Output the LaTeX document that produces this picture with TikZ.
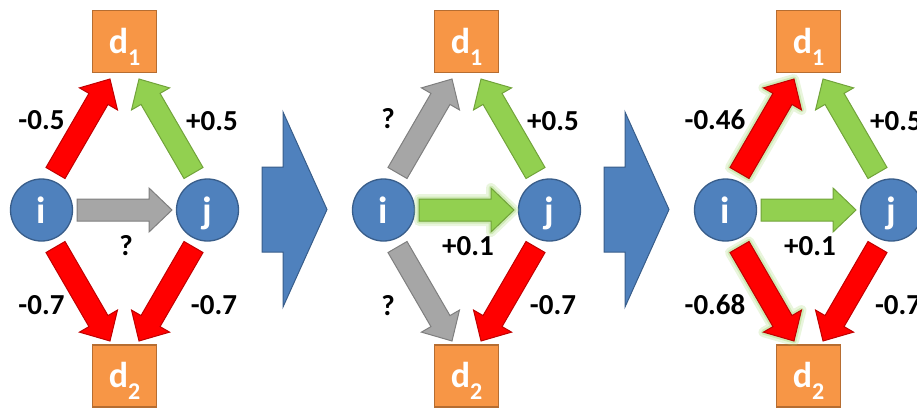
\documentclass[tikz,border=0pt]{standalone}
\usepackage{fontspec}
\setmainfont{Carlito}
\usetikzlibrary{calc}
\definecolor{boxfill}{HTML}{F79646}
\definecolor{boxline}{HTML}{B66D31}
\definecolor{circfill}{HTML}{4F81BD}
\definecolor{circline}{HTML}{385D8A}
\definecolor{redfill}{HTML}{FF0000}
\definecolor{redline}{HTML}{C00000}
\definecolor{grnfill}{HTML}{92D050}
\definecolor{grnline}{HTML}{71A33A}
\definecolor{grayfill}{HTML}{A6A6A6}
\definecolor{grayline}{HTML}{7F7F7F}
\definecolor{glowcol}{HTML}{A8D878}

% block arrow from tail coordinate #1 to tip coordinate #2 with style #3
\newcommand\blockarr[3]{%
  \path let \p1=(#1), \p2=(#2),
            \n1={atan2(\y2-\y1,\x2-\x1)},
            \n2={veclen(\x2-\x1,\y2-\y1)} in
    \pgfextra{\xdef\baang{\n1}\xdef\balen{\n2}\xdef\bax{\x1}\xdef\bay{\y1}};
  \begin{scope}[shift={(\bax,\bay)},rotate=\baang]
    \path[#3] (0pt,-11pt) -- ({\balen-23pt},-11pt) -- ({\balen-23pt},-22pt)
      -- ({\balen},0pt) -- ({\balen-23pt},22pt) -- ({\balen-23pt},11pt)
      -- (0pt,11pt) -- cycle;
  \end{scope}}
\newcommand\dsub[1]{d\raisebox{-12pt}[0pt][0pt]{\fontsize{24}{24}\selectfont #1}}

\begin{document}
\begin{tikzpicture}[x=1pt,y=-1pt,
  dbox/.style={draw=boxline, fill=boxfill, line width=1.3pt, minimum width=64pt,
    minimum height=62pt, inner sep=0pt, text=white,
    font=\fontsize{36}{36}\selectfont\bfseries, text height=23pt, text depth=0pt},
  circ/.style={circle, draw=circline, fill=circfill, line width=1.3pt,
    minimum size=62pt, inner sep=0pt, text=white,
    font=\fontsize{38}{38}\selectfont\bfseries, text height=26pt, text depth=0pt},
  lab/.style={font=\fontsize{29}{29}\selectfont\bfseries, inner sep=0pt},
  redarr/.style={fill=redfill, draw=redline, line width=1pt, line join=miter},
  grnarr/.style={fill=grnfill, draw=grnline, line width=1pt, line join=miter},
  grayarr/.style={fill=grayfill, draw=grayline, line width=1pt, line join=miter},
  glowa/.style={draw=glowcol, line width=10pt, line join=round, opacity=0.25},
  glowb/.style={draw=glowcol, line width=5pt, line join=round, opacity=0.4},
  bigarr/.style={fill=circfill, draw=circline, line width=1pt}]
\useasboundingbox (0,0) rectangle (917,410);
\clip (0,0) rectangle (917,410);

% nodes and arrow end points, three panels
\foreach \k/\o in {1/0,2/342,3/684}{
  \node[dbox] (top\k) at (124.5+\o,41.5) {\dsub{1}};
  \node[dbox] (bot\k) at (124.5+\o,376) {\dsub{2}};
  \node[circ] (i\k) at (41.5+\o,210) {i};
  \node[circ] (j\k) at (207.5+\o,210) {j};
  \coordinate (it\k s) at (55.5+\o,173);
  \coordinate (it\k e) at (110+\o,79);
  \coordinate (jt\k s) at (193.5+\o,173);
  \coordinate (jt\k e) at (139+\o,79);
  \coordinate (ib\k s) at (55.5+\o,247);
  \coordinate (ib\k e) at (110+\o,341);
  \coordinate (jb\k s) at (193.5+\o,247);
  \coordinate (jb\k e) at (139+\o,341);
  \coordinate (ij\k s) at (77+\o,210);
  \coordinate (ij\k e) at (172+\o,210);
}

% big transition arrows
\foreach \o in {0,342}{
  \draw[bigarr] (262+\o,167) -- (283+\o,167) -- (283+\o,112) -- (327+\o,209.5)
    -- (283+\o,307) -- (283+\o,252) -- (262+\o,252) -- cycle;
}

% panel 1
\blockarr{it1s}{it1e}{redarr}
\blockarr{jt1s}{jt1e}{grnarr}
\blockarr{ib1s}{ib1e}{redarr}
\blockarr{jb1s}{jb1e}{redarr}
\blockarr{ij1s}{ij1e}{grayarr}
\node[lab] (l1a) at (41.5,120) {-0.5};
\node[lab] (l1b) at (212,121) {+0.5};
\node[lab] (l1c) at (126,246) {?};
\node[lab] (l1d) at (41.5,305) {-0.7};
\node[lab] (l1e) at (214,305) {-0.7};

% panel 2
\blockarr{it2s}{it2e}{grayarr}
\blockarr{jt2s}{jt2e}{grnarr}
\blockarr{ib2s}{ib2e}{grayarr}
\blockarr{jb2s}{jb2e}{redarr}
\blockarr{ij2s}{ij2e}{glowa}
\blockarr{ij2s}{ij2e}{glowb}
\blockarr{ij2s}{ij2e}{grnarr}
\node[lab] (l2a) at (388,119) {?};
\node[lab] (l2b) at (553,121) {+0.5};
\node[lab] (l2c) at (468,246) {+0.1};
\node[lab] (l2d) at (388,306) {?};
\node[lab] (l2e) at (553,305) {-0.7};

% panel 3
\blockarr{it3s}{it3e}{glowa}
\blockarr{it3s}{it3e}{glowb}
\blockarr{it3s}{it3e}{redarr}
\blockarr{jt3s}{jt3e}{grnarr}
\blockarr{ib3s}{ib3e}{glowa}
\blockarr{ib3s}{ib3e}{glowb}
\blockarr{ib3s}{ib3e}{redarr}
\blockarr{jb3s}{jb3e}{redarr}
\blockarr{ij3s}{ij3e}{grnarr}
\node[lab] (l3a) at (715,120) {-0.46};
\node[lab] (l3b) at (896,121) {+0.5};
\node[lab] (l3c) at (810,246) {+0.1};
\node[lab] (l3d) at (715,305) {-0.68};
\node[lab] (l3e) at (898,305) {-0.7};
\end{tikzpicture}
\end{document}
